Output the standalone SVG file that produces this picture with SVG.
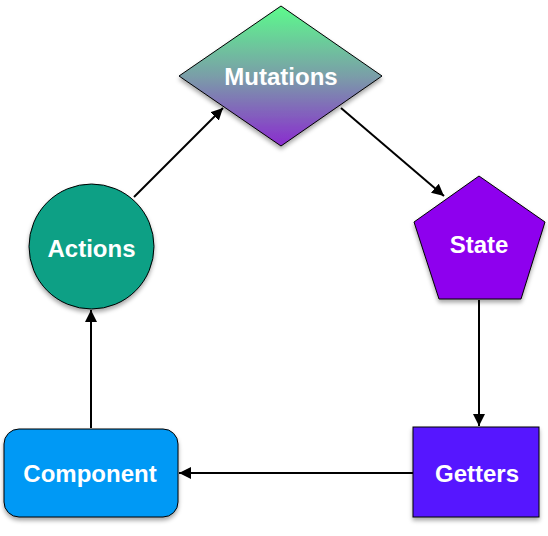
<svg xmlns="http://www.w3.org/2000/svg" width="548" height="536" viewBox="0 0 548 536">
<defs>
<linearGradient id="mutGrad" x1="0" y1="0" x2="0" y2="1">
<stop offset="0" stop-color="#5cfb8c"/>
<stop offset="0.5" stop-color="#7a9ea8"/>
<stop offset="1" stop-color="#8a2ccf"/>
</linearGradient>
<filter id="shadow" x="-20%" y="-20%" width="140%" height="150%">
<feDropShadow dx="0" dy="3" stdDeviation="2" flood-color="#000" flood-opacity="0.35"/>
</filter>
<marker id="arrow" viewBox="0 0 10 10" refX="10" refY="5" markerWidth="6" markerHeight="6" orient="auto" markerUnits="strokeWidth">
<path d="M0,0 L10,5 L0,10 Z" fill="#000"/>
</marker>
</defs>
<style>
.shape { stroke: #000; stroke-width: 1; filter: url(#shadow); }
.label { font-family: "Liberation Sans", Arial, Helvetica, sans-serif; font-weight: bold; font-size: 24px; fill: #fff; text-anchor: middle; }
.conn { stroke: #000; stroke-width: 2; fill: none; marker-end: url(#arrow); }
</style>
<rect width="548" height="536" fill="#fff"/>
<g id="connectors">
<line class="conn" x1="134" y1="197" x2="223" y2="108"/>
<line class="conn" x1="341" y1="108" x2="444" y2="196"/>
<line class="conn" x1="479" y1="300" x2="479" y2="426"/>
<line class="conn" x1="413" y1="473" x2="179" y2="473"/>
<line class="conn" x1="91" y1="428" x2="91" y2="310"/>
</g>
<g id="mutations">
<polygon class="shape" points="281,6 382,76 281,146 179,76" fill="url(#mutGrad)"/>
<text class="label" x="281" y="85">Mutations</text>
</g>
<g id="state">
<polygon class="shape" points="479,176 545,222 521,299 439,299 414,222" fill="#8e00ee"/>
<text class="label" x="479" y="253">State</text>
</g>
<g id="getters">
<rect class="shape" x="413" y="427" width="126" height="90" fill="#5619ff"/>
<text class="label" x="477" y="482">Getters</text>
</g>
<g id="component">
<rect class="shape" x="4" y="429" width="174" height="88" rx="15" ry="15" fill="#0099f5"/>
<text class="label" x="90" y="482">Component</text>
</g>
<g id="actions">
<circle class="shape" cx="91.5" cy="246.5" r="62.5" fill="#08a085"/>
<text class="label" x="91.5" y="257">Actions</text>
</g>
</svg>
